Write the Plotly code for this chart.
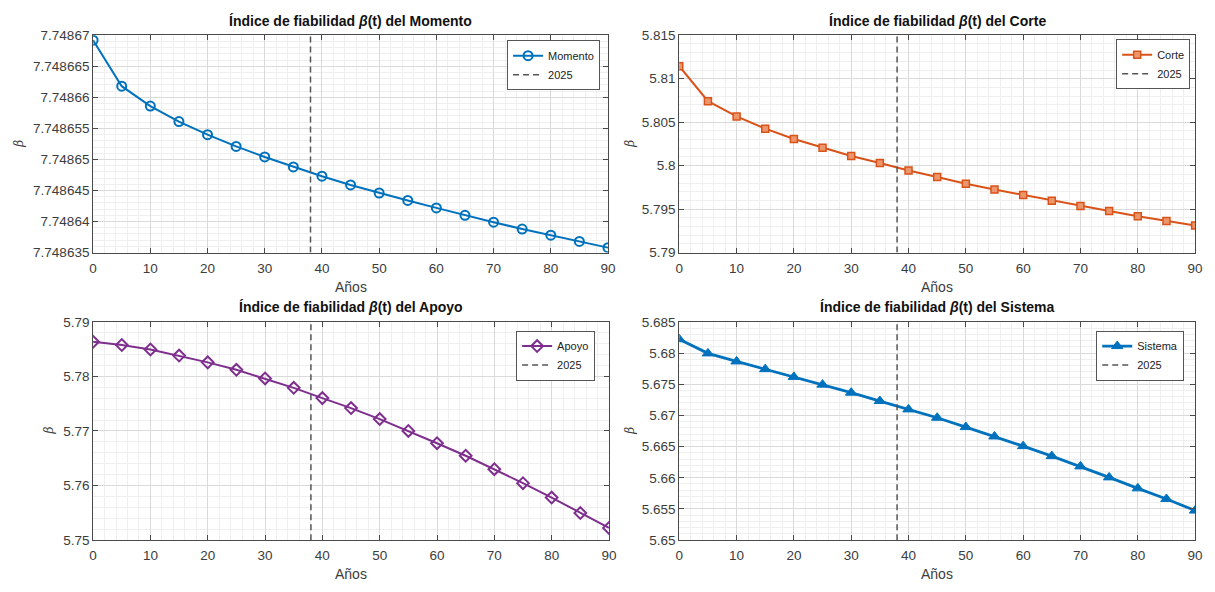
import plotly.graph_objects as go

W, H = 1215, 592

years = [0, 5, 10, 15, 20, 25, 30, 35, 40, 45, 50, 55, 60, 65, 70, 75, 80, 85, 90]
year_2025 = 38

beta_momento = [7.7486692, 7.7486618, 7.7486586, 7.7486561, 7.7486540, 7.7486521,
                7.7486504, 7.7486488, 7.7486473, 7.7486459, 7.7486446, 7.7486434,
                7.7486422, 7.7486410, 7.7486399, 7.7486388, 7.7486378, 7.7486368,
                7.7486358]
beta_corte = [5.81144, 5.80741, 5.80567, 5.80426, 5.80307, 5.80207, 5.80111, 5.80030,
              5.79944, 5.79870, 5.79793, 5.79726, 5.79663, 5.79596, 5.79537, 5.79478,
              5.79419, 5.79363, 5.79311]
beta_apoyo = [5.78634, 5.78575, 5.78493, 5.78381, 5.78257, 5.78121, 5.77962, 5.77790,
              5.77602, 5.77419, 5.77218, 5.77000, 5.76776, 5.76546, 5.76300, 5.76044,
              5.75780, 5.75496, 5.75224]
beta_sistema = [5.68221, 5.67994, 5.67865, 5.67741, 5.67617, 5.67493, 5.67364, 5.67230,
                5.67096, 5.66962, 5.66812, 5.66662, 5.66507, 5.66347, 5.66182, 5.66006,
                5.65830, 5.65660, 5.65474]

x_ticks = [0, 10, 20, 30, 40, 50, 60, 70, 80, 90]
x_ticklabels = ["0", "10", "20", "30", "40", "50", "60", "70", "80", "90"]

yt_momento = [7.748635, 7.74864, 7.748645, 7.74865, 7.748655, 7.74866, 7.748665, 7.74867]
yl_momento = ["7.748635", "7.74864", "7.748645", "7.74865", "7.748655", "7.74866", "7.748665", "7.74867"]
yt_corte = [5.79, 5.795, 5.8, 5.805, 5.81, 5.815]
yl_corte = ["5.79", "5.795", "5.8", "5.805", "5.81", "5.815"]
yt_apoyo = [5.75, 5.76, 5.77, 5.78, 5.79]
yl_apoyo = ["5.75", "5.76", "5.77", "5.78", "5.79"]
yt_sistema = [5.65, 5.655, 5.66, 5.665, 5.67, 5.675, 5.68, 5.685]
yl_sistema = ["5.65", "5.655", "5.66", "5.665", "5.67", "5.675", "5.68", "5.685"]

titles = ["Índice de fiabilidad <i>β</i>(t) del Momento",
          "Índice de fiabilidad <i>β</i>(t) del Corte",
          "Índice de fiabilidad <i>β</i>(t) del Apoyo",
          "Índice de fiabilidad <i>β</i>(t) del Sistema"]
names = ["Momento", "Corte", "Apoyo", "Sistema"]
line_label = "2025"

FONT = "Liberation Sans, Arial, sans-serif"
AX = "#4a4a4a"
TXT = "#3c3c3c"

# pixel boxes: (left, right, top, bottom)
boxes = [(90, 610, 29, 252), (682, 1203, 29, 252), (90, 611, 323, 547), (682, 1203, 323, 547)]
ydata = [beta_momento, beta_corte, beta_apoyo, beta_sistema]
yticks = [(yt_momento, yl_momento, 1e-6), (yt_corte, yl_corte, 0.001),
          (yt_apoyo, yl_apoyo, 0.002), (yt_sistema, yl_sistema, 0.001)]
colors = ["#0072BD", "#D95319", "#7E2F8E", "#0072BD"]
markers = [dict(symbol="circle-open", size=9, line=dict(width=2, color="#0072BD")),
           dict(symbol="square", size=7, color="rgba(236,150,110,1)", line=dict(width=1.5, color="#D95319")),
           dict(symbol="diamond-open", size=9, line=dict(width=2, color="#7E2F8E")),
           dict(symbol="triangle-up", size=10, color="#0072BD", line=dict(width=1, color="#0072BD"))]
widths = [2, 2, 2, 2.8]
legend_pos = [(602, 34), (1198, 33), (597, 332), (1192, 332)]
ylab_x = [15, 632, 45, 632]

fig = go.Figure()
for i in range(4):
    l, r, t, b = boxes[i]
    sfx = "" if i == 0 else str(i + 1)
    lg = "legend" if i == 0 else "legend%d" % (i + 1)
    tv, tl, mdt = yticks[i]
    fig.add_trace(go.Scatter(x=years, y=ydata[i], mode="lines+markers", name=names[i],
                             line=dict(color=colors[i], width=widths[i]), marker=markers[i],
                             xaxis="x" + sfx, yaxis="y" + sfx, legend=lg))
    fig.add_trace(go.Scatter(x=[year_2025, year_2025], y=[tv[0], tv[-1]], mode="lines",
                             name=line_label, line=dict(color="#555555", width=1.5, dash="6px,4px"),
                             xaxis="x" + sfx, yaxis="y" + sfx, legend=lg))
    common = dict(showline=True, linecolor=AX, linewidth=1, mirror="ticks", ticks="inside",
                  ticklen=5, tickcolor=AX, tickfont=dict(family=FONT, size=13.5, color=TXT),
                  showgrid=True, gridcolor="#dadada", gridwidth=1, zeroline=False)
    fig.update_layout(**{
        "xaxis" + sfx: dict(domain=[l / W, r / W], range=[0, 90], tickvals=x_ticks,
                            ticktext=x_ticklabels, anchor="y" + sfx, ticklabelstandoff=3,
                            minor=dict(dtick=2, tick0=0, showgrid=True, gridcolor="#efefef", gridwidth=1),
                            **common),
        "yaxis" + sfx: dict(domain=[1 - b / H, 1 - t / H], range=[tv[0], tv[-1]], tickvals=tv,
                            ticktext=tl, anchor="x" + sfx,
                            minor=dict(dtick=mdt, tick0=tv[0], showgrid=True, gridcolor="#efefef", gridwidth=1),
                            **common),
        lg: dict(x=legend_pos[i][0] / W, y=1 - legend_pos[i][1] / H, xanchor="right", yanchor="top",
                 bgcolor="white", bordercolor="#555555", borderwidth=1,
                 font=dict(family=FONT, size=11, color="#222222"),
                 tracegroupgap=0, itemwidth=30),
    })
    fig.add_annotation(x=(l + r) / 2 / W, y=1 - (t - 15) / H, xref="paper", yref="paper",
                       xanchor="center", yanchor="middle",
                       text="<b>" + titles[i] + "</b>", showarrow=False,
                       font=dict(family=FONT, size=14, color="#111111"))
    fig.add_annotation(x=(l + r) / 2 / W, y=1 - (b + 35) / H, xref="paper", yref="paper",
                       xanchor="center", yanchor="middle",
                       text="Años", showarrow=False, font=dict(family=FONT, size=14, color=TXT))
    fig.add_annotation(x=ylab_x[i] / W, y=1 - (t + b) / 2 / H, xref="paper", yref="paper",
                       xanchor="center", yanchor="middle",
                       text="<i>β</i>", showarrow=False, textangle=-90,
                       font=dict(family="DejaVu Serif, serif", size=12, color=TXT))

fig.update_layout(width=W, height=H, margin=dict(l=0, r=0, t=0, b=0),
                  paper_bgcolor="white", plot_bgcolor="white", showlegend=True)
fig.write_html("out.html")
